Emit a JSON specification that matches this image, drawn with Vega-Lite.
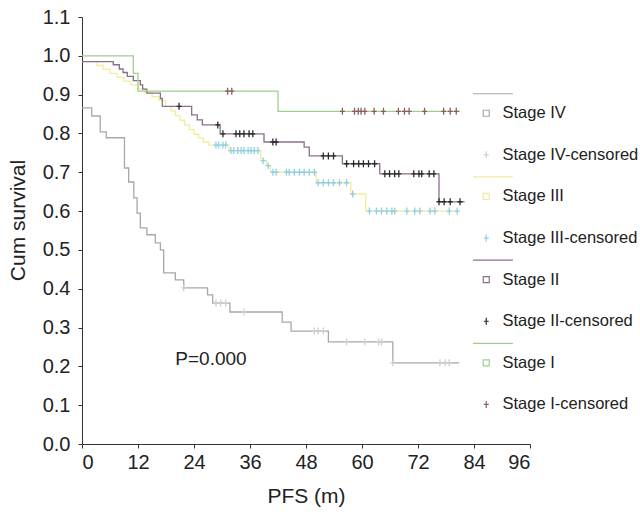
{
  "$schema": "https://vega.github.io/schema/vega-lite/v6.json",
  "width": 448,
  "height": 427,
  "autosize": {"type": "none"},
  "padding": {"left": 82, "top": 17, "right": 110, "bottom": 71},
  "background": "white",
  "config": {
    "view": {"stroke": null},
    "font": "Liberation Sans",
    "axis": {
      "grid": false,
      "domainColor": "#333333",
      "tickColor": "#333333",
      "tickSize": 4,
      "labelFontSize": 20,
      "labelColor": "#222222",
      "titleFontSize": 21,
      "titleFontWeight": "normal",
      "titleColor": "#222222"
    }
  },
  "datasets": {
    "curves": [
      {"g": "Stage IV", "t": 0, "s": 0.866}, {"g": "Stage IV", "t": 2.1, "s": 0.845}, {"g": "Stage IV", "t": 3.9, "s": 0.804},
      {"g": "Stage IV", "t": 5.2, "s": 0.789}, {"g": "Stage IV", "t": 9.1, "s": 0.711}, {"g": "Stage IV", "t": 10.0, "s": 0.675},
      {"g": "Stage IV", "t": 11.1, "s": 0.634}, {"g": "Stage IV", "t": 11.8, "s": 0.595}, {"g": "Stage IV", "t": 12.5, "s": 0.557},
      {"g": "Stage IV", "t": 13.9, "s": 0.539}, {"g": "Stage IV", "t": 15.7, "s": 0.518}, {"g": "Stage IV", "t": 16.8, "s": 0.5},
      {"g": "Stage IV", "t": 17.5, "s": 0.441}, {"g": "Stage IV", "t": 20.0, "s": 0.423}, {"g": "Stage IV", "t": 21.8, "s": 0.402},
      {"g": "Stage IV", "t": 26.9, "s": 0.384}, {"g": "Stage IV", "t": 28.0, "s": 0.363}, {"g": "Stage IV", "t": 31.7, "s": 0.34},
      {"g": "Stage IV", "t": 42.9, "s": 0.314}, {"g": "Stage IV", "t": 44.8, "s": 0.291}, {"g": "Stage IV", "t": 52.8, "s": 0.263},
      {"g": "Stage IV", "t": 66.6, "s": 0.209}, {"g": "Stage IV", "t": 80.8, "s": 0.209},
      {"g": "Stage III", "t": 0, "s": 0.985}, {"g": "Stage III", "t": 3.2, "s": 0.975}, {"g": "Stage III", "t": 4.5, "s": 0.965},
      {"g": "Stage III", "t": 6.0, "s": 0.955}, {"g": "Stage III", "t": 7.5, "s": 0.945}, {"g": "Stage III", "t": 9.0, "s": 0.935},
      {"g": "Stage III", "t": 10.5, "s": 0.925}, {"g": "Stage III", "t": 12.0, "s": 0.915}, {"g": "Stage III", "t": 13.5, "s": 0.905},
      {"g": "Stage III", "t": 15.0, "s": 0.895}, {"g": "Stage III", "t": 16.5, "s": 0.885}, {"g": "Stage III", "t": 17.9, "s": 0.87},
      {"g": "Stage III", "t": 19.0, "s": 0.858}, {"g": "Stage III", "t": 20.0, "s": 0.846}, {"g": "Stage III", "t": 21.0, "s": 0.834},
      {"g": "Stage III", "t": 22.0, "s": 0.822}, {"g": "Stage III", "t": 23.0, "s": 0.81}, {"g": "Stage III", "t": 24.0, "s": 0.798},
      {"g": "Stage III", "t": 25.0, "s": 0.788}, {"g": "Stage III", "t": 26.0, "s": 0.778}, {"g": "Stage III", "t": 27.2, "s": 0.77},
      {"g": "Stage III", "t": 31.5, "s": 0.756}, {"g": "Stage III", "t": 38.3, "s": 0.73}, {"g": "Stage III", "t": 39.5, "s": 0.717},
      {"g": "Stage III", "t": 40.4, "s": 0.7}, {"g": "Stage III", "t": 50.2, "s": 0.673}, {"g": "Stage III", "t": 57.6, "s": 0.644},
      {"g": "Stage III", "t": 60.8, "s": 0.6}, {"g": "Stage III", "t": 81.0, "s": 0.6},
      {"g": "Stage II", "t": 0, "s": 0.985}, {"g": "Stage II", "t": 6.7, "s": 0.977}, {"g": "Stage II", "t": 8.0, "s": 0.966},
      {"g": "Stage II", "t": 8.8, "s": 0.957}, {"g": "Stage II", "t": 9.7, "s": 0.947}, {"g": "Stage II", "t": 11.0, "s": 0.936},
      {"g": "Stage II", "t": 12.5, "s": 0.925}, {"g": "Stage II", "t": 13.0, "s": 0.914}, {"g": "Stage II", "t": 13.9, "s": 0.904},
      {"g": "Stage II", "t": 16.8, "s": 0.89}, {"g": "Stage II", "t": 17.2, "s": 0.87}, {"g": "Stage II", "t": 23.5, "s": 0.848},
      {"g": "Stage II", "t": 24.7, "s": 0.835}, {"g": "Stage II", "t": 25.8, "s": 0.822}, {"g": "Stage II", "t": 29.6, "s": 0.799},
      {"g": "Stage II", "t": 39.0, "s": 0.778}, {"g": "Stage II", "t": 47.6, "s": 0.765}, {"g": "Stage II", "t": 48.7, "s": 0.742},
      {"g": "Stage II", "t": 55.8, "s": 0.722}, {"g": "Stage II", "t": 63.8, "s": 0.696}, {"g": "Stage II", "t": 76.5, "s": 0.624},
      {"g": "Stage II", "t": 82.0, "s": 0.624},
      {"g": "Stage I", "t": 0, "s": 1.0}, {"g": "Stage I", "t": 11.0, "s": 0.955}, {"g": "Stage I", "t": 12.0, "s": 0.909},
      {"g": "Stage I", "t": 42.0, "s": 0.857}, {"g": "Stage I", "t": 81.0, "s": 0.857}
    ],
    "censored": [
      {"g": "Stage IV-censored", "t": 21.8, "s": 0.402}, {"g": "Stage IV-censored", "t": 28.7, "s": 0.363},
      {"g": "Stage IV-censored", "t": 29.7, "s": 0.363}, {"g": "Stage IV-censored", "t": 30.8, "s": 0.363},
      {"g": "Stage IV-censored", "t": 34.7, "s": 0.34}, {"g": "Stage IV-censored", "t": 49.8, "s": 0.291},
      {"g": "Stage IV-censored", "t": 50.6, "s": 0.291}, {"g": "Stage IV-censored", "t": 51.7, "s": 0.291},
      {"g": "Stage IV-censored", "t": 56.7, "s": 0.263}, {"g": "Stage IV-censored", "t": 60.6, "s": 0.263},
      {"g": "Stage IV-censored", "t": 63.6, "s": 0.263}, {"g": "Stage IV-censored", "t": 64.2, "s": 0.263},
      {"g": "Stage IV-censored", "t": 66.6, "s": 0.209}, {"g": "Stage IV-censored", "t": 76.7, "s": 0.209},
      {"g": "Stage IV-censored", "t": 77.8, "s": 0.209}, {"g": "Stage IV-censored", "t": 78.7, "s": 0.209},
      {"g": "Stage III-censored", "t": 28.7, "s": 0.77}, {"g": "Stage III-censored", "t": 29.3, "s": 0.77},
      {"g": "Stage III-censored", "t": 30.2, "s": 0.77}, {"g": "Stage III-censored", "t": 30.8, "s": 0.77},
      {"g": "Stage III-censored", "t": 31.9, "s": 0.756}, {"g": "Stage III-censored", "t": 32.5, "s": 0.756},
      {"g": "Stage III-censored", "t": 33.4, "s": 0.756}, {"g": "Stage III-censored", "t": 34.1, "s": 0.756},
      {"g": "Stage III-censored", "t": 34.7, "s": 0.756}, {"g": "Stage III-censored", "t": 35.6, "s": 0.756},
      {"g": "Stage III-censored", "t": 36.2, "s": 0.756}, {"g": "Stage III-censored", "t": 36.9, "s": 0.756},
      {"g": "Stage III-censored", "t": 37.7, "s": 0.756}, {"g": "Stage III-censored", "t": 38.8, "s": 0.73},
      {"g": "Stage III-censored", "t": 39.9, "s": 0.717}, {"g": "Stage III-censored", "t": 40.9, "s": 0.7},
      {"g": "Stage III-censored", "t": 41.6, "s": 0.7}, {"g": "Stage III-censored", "t": 43.8, "s": 0.7},
      {"g": "Stage III-censored", "t": 44.4, "s": 0.7}, {"g": "Stage III-censored", "t": 45.5, "s": 0.7},
      {"g": "Stage III-censored", "t": 46.6, "s": 0.7}, {"g": "Stage III-censored", "t": 47.6, "s": 0.7},
      {"g": "Stage III-censored", "t": 48.7, "s": 0.7}, {"g": "Stage III-censored", "t": 49.8, "s": 0.7},
      {"g": "Stage III-censored", "t": 50.6, "s": 0.673}, {"g": "Stage III-censored", "t": 51.7, "s": 0.673},
      {"g": "Stage III-censored", "t": 52.8, "s": 0.673}, {"g": "Stage III-censored", "t": 53.9, "s": 0.673},
      {"g": "Stage III-censored", "t": 55.2, "s": 0.673}, {"g": "Stage III-censored", "t": 56.7, "s": 0.673},
      {"g": "Stage III-censored", "t": 58.0, "s": 0.644}, {"g": "Stage III-censored", "t": 61.6, "s": 0.6},
      {"g": "Stage III-censored", "t": 63.1, "s": 0.6}, {"g": "Stage III-censored", "t": 64.2, "s": 0.6},
      {"g": "Stage III-censored", "t": 65.3, "s": 0.6}, {"g": "Stage III-censored", "t": 66.4, "s": 0.6},
      {"g": "Stage III-censored", "t": 67.0, "s": 0.6}, {"g": "Stage III-censored", "t": 69.6, "s": 0.6},
      {"g": "Stage III-censored", "t": 71.3, "s": 0.6}, {"g": "Stage III-censored", "t": 72.4, "s": 0.6},
      {"g": "Stage III-censored", "t": 74.6, "s": 0.6}, {"g": "Stage III-censored", "t": 75.6, "s": 0.6},
      {"g": "Stage III-censored", "t": 78.7, "s": 0.6}, {"g": "Stage III-censored", "t": 80.4, "s": 0.6},
      {"g": "Stage II-censored", "t": 20.8, "s": 0.87}, {"g": "Stage II-censored", "t": 29.1, "s": 0.822},
      {"g": "Stage II-censored", "t": 30.2, "s": 0.799}, {"g": "Stage II-censored", "t": 33.0, "s": 0.799},
      {"g": "Stage II-censored", "t": 33.8, "s": 0.799}, {"g": "Stage II-censored", "t": 34.7, "s": 0.799},
      {"g": "Stage II-censored", "t": 35.8, "s": 0.799}, {"g": "Stage II-censored", "t": 36.6, "s": 0.799},
      {"g": "Stage II-censored", "t": 40.9, "s": 0.778}, {"g": "Stage II-censored", "t": 41.6, "s": 0.778},
      {"g": "Stage II-censored", "t": 51.7, "s": 0.742}, {"g": "Stage II-censored", "t": 52.8, "s": 0.742},
      {"g": "Stage II-censored", "t": 53.9, "s": 0.742}, {"g": "Stage II-censored", "t": 56.7, "s": 0.722},
      {"g": "Stage II-censored", "t": 58.2, "s": 0.722}, {"g": "Stage II-censored", "t": 59.3, "s": 0.722},
      {"g": "Stage II-censored", "t": 60.3, "s": 0.722}, {"g": "Stage II-censored", "t": 61.4, "s": 0.722},
      {"g": "Stage II-censored", "t": 62.7, "s": 0.722}, {"g": "Stage II-censored", "t": 64.9, "s": 0.696},
      {"g": "Stage II-censored", "t": 65.9, "s": 0.696}, {"g": "Stage II-censored", "t": 67.0, "s": 0.696},
      {"g": "Stage II-censored", "t": 67.9, "s": 0.696}, {"g": "Stage II-censored", "t": 71.1, "s": 0.696},
      {"g": "Stage II-censored", "t": 72.2, "s": 0.696}, {"g": "Stage II-censored", "t": 72.8, "s": 0.696},
      {"g": "Stage II-censored", "t": 74.4, "s": 0.696}, {"g": "Stage II-censored", "t": 75.4, "s": 0.696},
      {"g": "Stage II-censored", "t": 76.5, "s": 0.624}, {"g": "Stage II-censored", "t": 77.6, "s": 0.624},
      {"g": "Stage II-censored", "t": 78.9, "s": 0.624}, {"g": "Stage II-censored", "t": 81.0, "s": 0.624},
      {"g": "Stage I-censored", "t": 31.2, "s": 0.909}, {"g": "Stage I-censored", "t": 32.1, "s": 0.909},
      {"g": "Stage I-censored", "t": 55.8, "s": 0.857}, {"g": "Stage I-censored", "t": 58.4, "s": 0.857},
      {"g": "Stage I-censored", "t": 59.2, "s": 0.857}, {"g": "Stage I-censored", "t": 59.8, "s": 0.857},
      {"g": "Stage I-censored", "t": 60.6, "s": 0.857}, {"g": "Stage I-censored", "t": 62.6, "s": 0.857},
      {"g": "Stage I-censored", "t": 64.6, "s": 0.857}, {"g": "Stage I-censored", "t": 67.8, "s": 0.857},
      {"g": "Stage I-censored", "t": 69.1, "s": 0.857}, {"g": "Stage I-censored", "t": 70.1, "s": 0.857},
      {"g": "Stage I-censored", "t": 73.4, "s": 0.857}, {"g": "Stage I-censored", "t": 77.5, "s": 0.857},
      {"g": "Stage I-censored", "t": 78.9, "s": 0.857}, {"g": "Stage I-censored", "t": 80.2, "s": 0.857}
    ],
    "note": [{"t": 20.0, "s": 0.22, "label": "P=0.000"}]
  },
  "encoding": {
    "x": {
      "field": "t", "type": "quantitative",
      "scale": {"domain": [0, 96], "nice": false, "zero": false},
      "axis": {"values": [0, 12, 24, 36, 48, 60, 72, 84, 96], "title": "PFS (m)", "labelPadding": 4, "titlePadding": 13}
    },
    "y": {
      "field": "s", "type": "quantitative",
      "scale": {"domain": [0, 1.1], "nice": false, "zero": false},
      "axis": {"values": [0, 0.1, 0.2, 0.3, 0.4, 0.5, 0.6, 0.7, 0.8, 0.9, 1.0, 1.1], "format": ".1f", "title": "Cum survival", "labelPadding": 8, "titlePadding": 14, "titleY": 203}
    }
  },
  "layer": [
    {
      "data": {"name": "curves"},
      "mark": {"type": "line", "interpolate": "step-after", "strokeWidth": 1.3},
      "encoding": {
        "color": {
          "field": "g", "type": "nominal",
          "scale": {
            "domain": ["Stage IV", "Stage IV-censored", "Stage III", "Stage III-censored", "Stage II", "Stage II-censored", "Stage I", "Stage I-censored"],
            "range": ["#a8a8a8", "#cfcfcf", "#f2ec9c", "#8fcfe4", "#8c6f8c", "#2b2b2b", "#9fcf8f", "#8b5e5e"]
          },
          "legend": {"title": null, "orient": "none", "legendX": 396, "legendY": 88, "symbolSize": 100, "labelFontSize": 16.5, "labelOffset": 8, "rowPadding": 10.6, "padding": 0, "symbolStrokeWidth": 1.2, "labelColor": "#222222", "symbolOffset": 0}
        }
      }
    },
    {
      "data": {"name": "censored"},
      "mark": {"type": "point", "filled": false, "size": 100, "strokeWidth": 1.3, "opacity": 1},
      "encoding": {
        "color": {"field": "g", "type": "nominal"},
        "shape": {
          "field": "g", "type": "nominal",
          "scale": {
            "domain": ["Stage IV", "Stage IV-censored", "Stage III", "Stage III-censored", "Stage II", "Stage II-censored", "Stage I", "Stage I-censored"],
            "range": [
              "M-2.66,-3.9H5.34M-0.6,-0.6H0.6V0.6H-0.6Z", "M0,-3.9M-0.5,0H0.5M0,-0.7V0.7",
              "M-2.66,-3.9H5.34M-0.6,-0.6H0.6V0.6H-0.6Z", "M0,-3.9M-0.5,0H0.5M0,-0.7V0.7",
              "M-2.66,-3.9H5.34M-0.6,-0.6H0.6V0.6H-0.6Z", "M0,-3.9M-0.5,0H0.5M0,-0.7V0.7",
              "M-2.66,-3.9H5.34M-0.6,-0.6H0.6V0.6H-0.6Z", "M0,-3.9M-0.5,0H0.5M0,-0.7V0.7"
            ]
          },
          "legend": {"title": null, "orient": "none", "legendX": 396, "legendY": 88, "symbolSize": 100, "labelFontSize": 16.5, "labelOffset": 8, "rowPadding": 10.6, "padding": 0, "symbolStrokeWidth": 1.2, "labelColor": "#222222", "symbolOffset": 0}
        }
      }
    },
    {
      "data": {"name": "note"},
      "mark": {"type": "text", "align": "left", "baseline": "middle", "fontSize": 19, "color": "#222222"},
      "encoding": {"text": {"field": "label"}}
    }
  ]
}
